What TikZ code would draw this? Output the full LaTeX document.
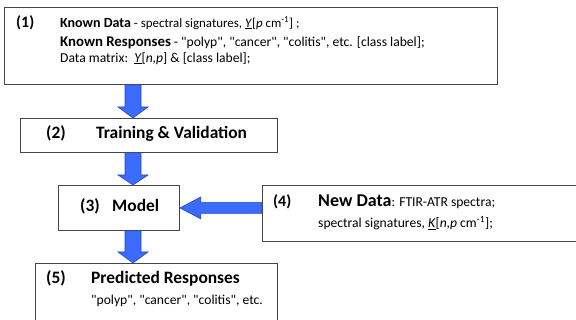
\documentclass[tikz,border=0pt]{standalone}
\usepackage{fontspec}
\setmainfont{Carlito}[Ligatures=TeXOff]
\usetikzlibrary{calc, positioning}

\definecolor{arrowblue}{RGB}{59,107,255}
\definecolor{arrowedge}{RGB}{40,72,190}
\definecolor{boxedge}{RGB}{70,70,70}

% block arrow: tail, tip, half shaft, half head, head length
\newcommand{\blockarrow}[5]{%
  \coordinate (ba-h) at ($(#2)!#5!(#1)$);
  \filldraw[fill=arrowblue, draw=arrowedge, line width=0.6pt, line join=miter]
    ($(#1)!#3!90:(#2)$) -- ($(ba-h)!#3!90:(#2)$) -- ($(ba-h)!#4!90:(#2)$) -- (#2)
    -- ($(ba-h)!#4!-90:(#2)$) -- ($(ba-h)!#3!-90:(#2)$) -- ($(#1)!#3!-90:(#2)$) -- cycle;
}
\newcommand{\kbold}[2][14.8]{{\fontsize{#1}{16}\selectfont\bfseries #2}}

\begin{document}
\begin{tikzpicture}[
        x=1pt, y=-1pt,
        box/.style={draw=boxedge, line width=0.9pt, fill=white, anchor=north west, inner sep=0pt},
        num/.style={font=\fontsize{16}{18}\selectfont\bfseries, anchor=base west, inner sep=0pt},
        head/.style={font=\fontsize{17.4}{19}\selectfont\bfseries, anchor=base west, inner sep=0pt},
        body/.style={font=\fontsize{13.6}{15}\selectfont, anchor=base west, inner sep=0pt}
    ]
        \useasboundingbox (0,0) rectangle (576,320);
        \clip (0,0) rectangle (576,320);
        % boxes
        \node[box, minimum width=493pt, minimum height=77pt] (b1) at (4,7) {};
        \node[box, minimum width=257pt, minimum height=34pt] (b2) at (20,118) {};
        \node[box, minimum width=121pt, minimum height=45pt] (b3) at (58,185) {};
        \node[box, minimum width=330pt, minimum height=56pt] (b4) at (262,185) {};
        \node[box, minimum width=242pt, minimum height=70pt] (b5) at (35,263) {};
        % (1)
        \node[num] (n1) at (16,27.5) {(1)};
        \node[body, font=\fontsize{12.9}{15}\selectfont] (t1a) at (60,27.3) {\kbold[14]{Known Data} - spectral signatures, \underline{\textit{Y}}[\textit{p} cm\textsuperscript{-1}] ;};
        \node[body] (t1b) at (60,46.7) {\kbold{Known Responses} - "polyp", "cancer", "colitis", etc. [class label];};
        \node[body] (t1c) at (60,62.3) {Data matrix:\ \ \underline{\textit{Y}}[\textit{n,p}] \& [class label];};
        % (2)
        \node[head] (n2) at (46,139) {(2)};
        \node[head] (t2) at (96,139) {Training \& Validation};
        % (3)
        \node[head] (n3) at (80,212) {(3)};
        \node[head] (t3) at (112,212) {Model};
        % (4)
        \node[num] (n4) at (273,207) {(4)};
        \node[body] (t4a) at (318,207) {{\fontsize{18}{20}\selectfont\bfseries New Data}: FTIR-ATR spectra;};
        \node[body] (t4b) at (318,228) {spectral signatures, \underline{\textit{K}}[\textit{n,p} cm\textsuperscript{-1}];};
        % (5)
        \node[head] (n5) at (46,284) {(5)};
        \node[head] (t5a) at (91,284) {Predicted Responses};
        \node[body] (t5b) at (91,305) {"polyp", "cancer", "colitis", etc.};
        % arrows
        \coordinate (ax) at (133,0);
        \coordinate (a1s) at (ax |- b1.south);
        \coordinate (a1e) at (ax |- b2.north);
        \coordinate (a2s) at (ax |- b2.south);
        \coordinate (a2e) at (ax |- b3.north);
        \coordinate (a3s) at (ax |- b3.south);
        \coordinate (a3e) at (ax |- b5.north);
        \coordinate (a4s) at (b4.west |- b3.east);
        \blockarrow{a1s}{a1e}{8pt}{15pt}{11pt}
        \blockarrow{a2s}{a2e}{8pt}{15pt}{10pt}
        \blockarrow{a3s}{a3e}{8pt}{15pt}{11pt}
        \blockarrow{a4s}{b3.east}{5.5pt}{11pt}{21pt}
    \end{tikzpicture}
\end{document}
